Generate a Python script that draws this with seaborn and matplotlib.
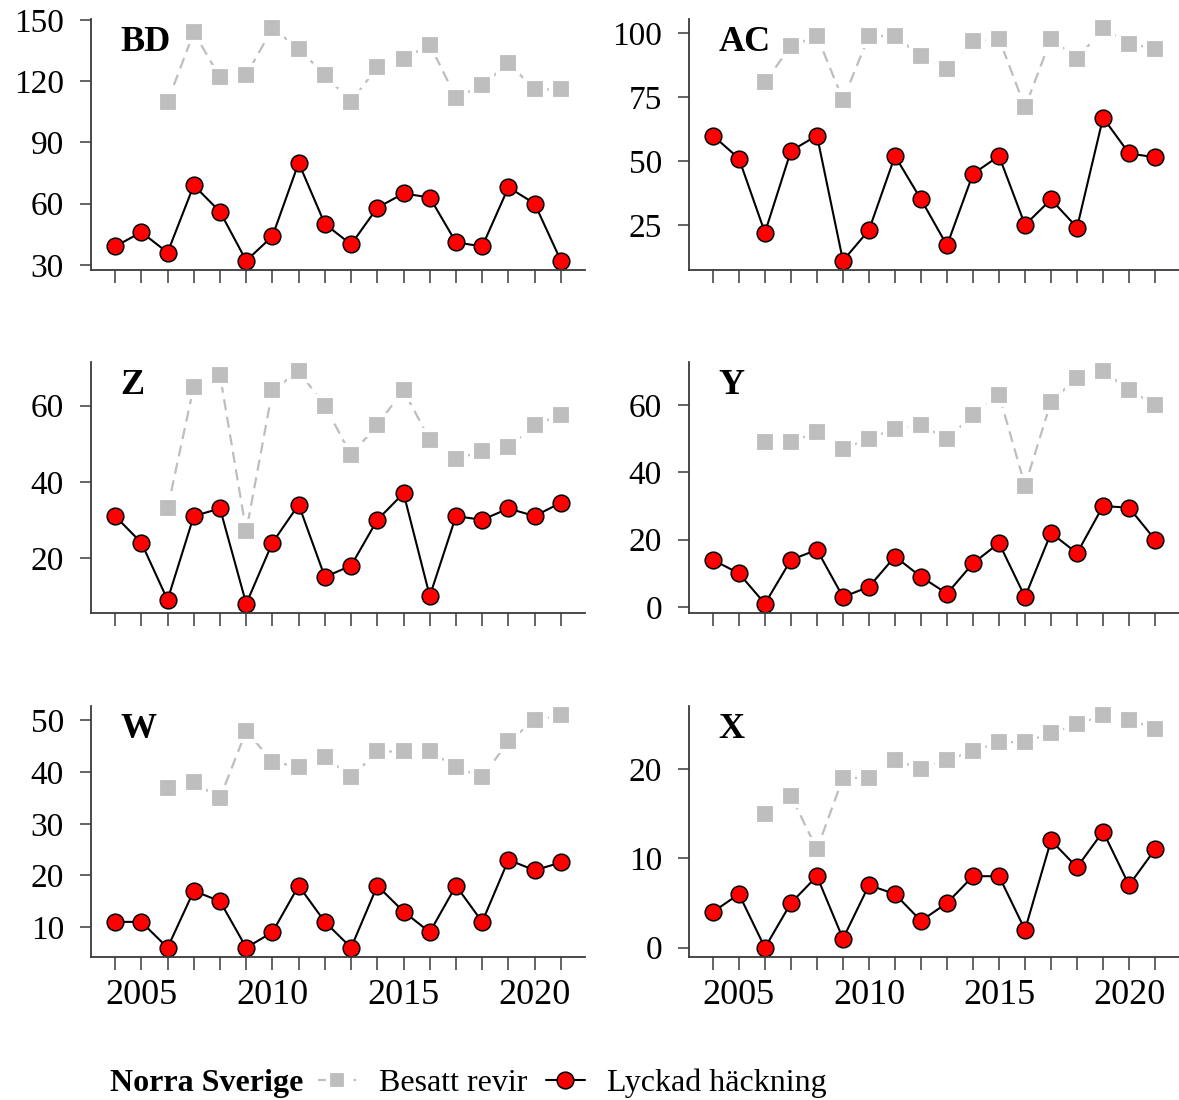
import numpy as np
import pandas as pd
import matplotlib
matplotlib.use('Agg')
import matplotlib.pyplot as plt
from matplotlib.lines import Line2D
import seaborn as sns

# years for the red series (all years) and gray series (from 2006)
years = list(range(2004, 2022))
years_besatt = list(range(2006, 2022))

# Lyckad häckning (red) per region
bd_lyckad = [39, 46, 36, 69, 56, 32, 44, 80, 50, 40, 58, 65, 63, 41, 39, 68, 60, 32]
ac_lyckad = [60, 51, 22, 54, 60, 11, 23, 52, 35, 17, 45, 52, 25, 35, 24, 67, 53, 51.5]
z_lyckad = [31, 24, 9, 31, 33, 8, 24, 34, 15, 18, 30, 37, 10, 31, 30, 33, 31, 34.5]
y_lyckad = [14, 10, 1, 14, 17, 3, 6, 15, 9, 4, 13, 19, 3, 22, 16, 30, 29.5, 20]
w_lyckad = [11, 11, 6, 17, 15, 6, 9, 18, 11, 6, 18, 13, 9, 18, 11, 23, 21, 22.5]
x_lyckad = [4, 6, 0, 5, 8, 1, 7, 6, 3, 5, 8, 8, 2, 12, 9, 13, 7, 11]

# Besatt revir (gray) per region, 2006-2021
bd_besatt = [110, 144, 122, 123, 146, 136, 123, 110, 127, 131, 138, 112, 118, 129, 116, 116]
ac_besatt = [81, 95, 99, 74, 99, 99, 91, 86, 97, 98, 71, 98, 90, 102, 96, 94]
z_besatt = [33, 65, 68, 27, 64, 69, 60, 47, 55, 64, 51, 46, 48, 49, 55, 57.5]
y_besatt = [49, 49, 52, 47, 50, 53, 54, 50, 57, 63, 36, 61, 68, 70, 64.5, 60]
w_besatt = [37, 38, 35, 48, 42, 41, 43, 39, 44, 44, 44, 41, 39, 46, 50, 51]
x_besatt = [15, 17, 11, 19, 19, 21, 20, 21, 22, 23, 23, 24, 25, 26, 25.5, 24.5]

regions = ['BD', 'AC', 'Z', 'Y', 'W', 'X']
lyckad = [bd_lyckad, ac_lyckad, z_lyckad, y_lyckad, w_lyckad, x_lyckad]
besatt = [bd_besatt, ac_besatt, z_besatt, y_besatt, w_besatt, x_besatt]
yticks = [[30, 60, 90, 120, 150], [25, 50, 75, 100], [20, 40, 60],
          [0, 20, 40, 60], [10, 20, 30, 40, 50], [0, 10, 20]]
xticks = [2005, 2010, 2015, 2020]

sns.set_style('ticks')
plt.rcParams['font.family'] = ['Liberation Serif', 'DejaVu Serif']
plt.rcParams['text.color'] = 'black'

gray = '#BEBEBE'
axcol = '#3a3a3a'
sq_style = dict(color=gray, lw=1.6, linestyle=(0, (5, 3)), marker='s',
                markersize=14.5, markerfacecolor=gray, markeredgecolor='white',
                markeredgewidth=3)
pt_style = dict(color='black', lw=1.5, marker='o', markersize=12,
                markerfacecolor='red', markeredgecolor='black',
                markeredgewidth=1.1)

fig = plt.figure(figsize=(11.79, 11.0), dpi=100)

col_x = [91 / 1179, 689 / 1179]
col_w = [494 / 1179, 490 / 1179]
row_y = [1 - 270 / 1100, 1 - 613 / 1100, 1 - 957 / 1100]
row_h = 251 / 1100

for i, name in enumerate(regions):
    r, c = divmod(i, 2)
    ax = fig.add_axes([col_x[c], row_y[r], col_w[c], row_h])

    df_b = pd.DataFrame({'year': years_besatt, 'n': besatt[i]})
    df_l = pd.DataFrame({'year': years, 'n': lyckad[i]})

    # gray dashed line, white marker edge leaves the gaps around points
    sns.lineplot(data=df_b, x='year', y='n', ax=ax, **sq_style)
    sns.lineplot(data=df_l, x='year', y='n', ax=ax, **pt_style)

    # axis limits padded 4% of data range
    allv = np.array(lyckad[i] + besatt[i], dtype=float)
    lo, hi = allv.min(), allv.max()
    pad = (hi - lo) * 0.04
    ax.set_ylim(lo - pad, hi + pad)
    ax.set_xlim(2004 - 0.92, 2021 + 0.92)

    ax.set_yticks(yticks[i])
    ax.set_xticks(years)
    if r == 2:
        ax.set_xticklabels([str(y) if y in xticks else '' for y in years])
    else:
        ax.set_xticklabels([])
    ax.set_xlabel('')
    ax.set_ylabel('')

    for s in ['top', 'right']:
        ax.spines[s].set_visible(False)
    for s in ['left', 'bottom']:
        ax.spines[s].set_color(axcol)
        ax.spines[s].set_linewidth(1.3)
    ax.tick_params(axis='both', colors=axcol, labelcolor='black', width=1.1)
    ax.tick_params(axis='y', length=8, pad=11.5, labelsize=24)
    ax.tick_params(axis='x', length=9, pad=7, labelsize=26)

    ax.text(0.06, 0.972, name, transform=ax.transAxes, ha='left', va='top',
            fontsize=26, fontweight='bold')

# legend row
fig.text(110 / 1179, 1 - 1083 / 1100, 'Norra Sverige', ha='left',
         va='center', fontsize=23, fontweight='bold')
handles = [Line2D([], [], **dict(sq_style, markersize=12.5)),
           Line2D([], [], **pt_style)]
fig.legend(handles, ['Besatt revir', 'Lyckad häckning'], ncol=2,
           loc='center left', bbox_to_anchor=(318 / 1179, 1 - 1083 / 1100),
           frameon=False, fontsize=23, handlelength=1.2, handletextpad=0.7,
           columnspacing=0.6, borderpad=0, borderaxespad=0)

fig.savefig('out.png', dpi=100, facecolor='white')
